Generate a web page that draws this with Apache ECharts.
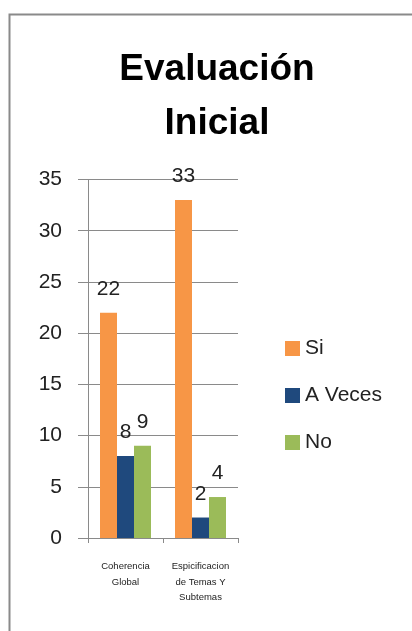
<!DOCTYPE html>
<html>
<head>
<meta charset="utf-8">
<script src="https://cdn.jsdelivr.net/npm/echarts@6/dist/echarts.min.js"></script>
<style>
html,body{margin:0;padding:0;background:#fff;}
#chart{width:412px;height:631px;}
</style>
</head>
<body>
<div id="chart"></div>
<script>
const categories = ['Coherencia\nGlobal', 'Espicificacion\nde Temas Y\nSubtemas'];
const seriesNames = ['Si', 'A Veces', 'No'];
const siValues = [22, 33];
const aVecesValues = [8, 2];
const noValues = [9, 4];
const colors = ['#F79646', '#1F497D', '#9BBB59'];
const yTicks = { min: 0, max: 35, interval: 5 };

const chart = echarts.init(document.getElementById('chart'), null, { renderer: 'canvas' });
const labelStyle = { show: true, position: 'top', distance: 13, fontSize: 21, color: '#222', fontFamily: 'Liberation Sans' };
const mk = (name, data, color) => ({
  name, type: 'bar', data, barGap: '0%', barCategoryGap: '32%',
  itemStyle: { color }, label: labelStyle, animation: false
});
chart.setOption({
  animation: false,
  title: {
    text: 'Evaluación\nInicial',
    left: 212, textAlign: 'center', top: 38,
    textStyle: { fontFamily: 'Liberation Sans', fontWeight: 'bold', fontSize: 37, lineHeight: 54, color: '#000' }
  },
  graphic: [{
    type: 'rect', left: 7, top: 12, shape: { width: 420, height: 640 },
    style: { fill: 'none', stroke: '#8a8a8a', lineWidth: 2 }, z: -1
  }],
  legend: {
    orient: 'vertical', left: 280, top: 333, itemWidth: 15, itemHeight: 15, itemGap: 26,
    icon: 'rect', data: seriesNames,
    textStyle: { fontSize: 21, color: '#222', fontFamily: 'Liberation Sans' }
  },
  grid: { left: 88, right: 174, top: 179.5, bottom: 93, containLabel: false },
  xAxis: {
    type: 'category', data: categories,
    axisLine: { lineStyle: { color: '#8a8a8a', width: 1 } },
    axisTick: { show: true, length: 5, alignWithLabel: false, lineStyle: { color: '#8a8a8a' } },
    axisLabel: { interval: 0, fontSize: 9.5, lineHeight: 15.5, margin: 21, color: '#222', fontFamily: 'Liberation Sans' },
    splitLine: { show: false }
  },
  yAxis: {
    type: 'value', min: yTicks.min, max: yTicks.max, interval: yTicks.interval,
    axisLine: { show: true, lineStyle: { color: '#8a8a8a' } },
    axisTick: { show: true, length: 10, lineStyle: { color: '#8a8a8a' } },
    axisLabel: { fontSize: 21, margin: 26, color: '#222', fontFamily: 'Liberation Sans' },
    splitLine: { show: true, lineStyle: { color: '#8a8a8a', width: 1 } }
  },
  series: [
    mk(seriesNames[0], siValues, colors[0]),
    mk(seriesNames[1], aVecesValues, colors[1]),
    mk(seriesNames[2], noValues, colors[2])
  ]
});
</script>
</body>
</html>
